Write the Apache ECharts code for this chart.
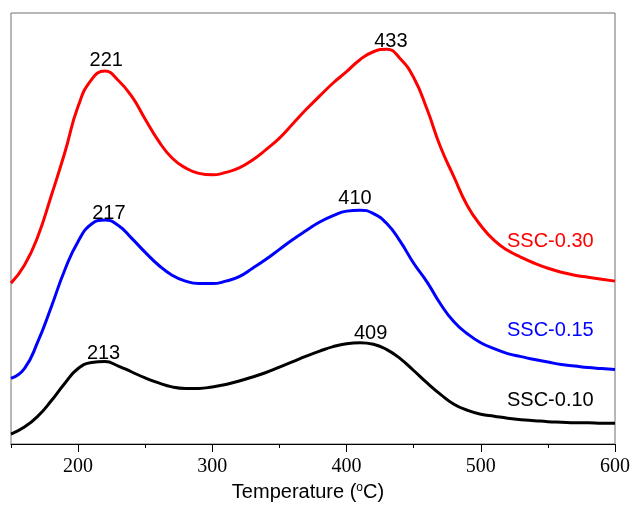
<!DOCTYPE html>
<html>
<head>
<meta charset="utf-8">
<script src="https://cdn.jsdelivr.net/npm/echarts@6/dist/echarts.min.js"></script>
<style>
  html, body { margin: 0; padding: 0; background: #fff; }
  #main { width: 633px; height: 507px; }
</style>
</head>
<body>
<div id="main"></div>
<script>
// temperature grid (°C), 150..600 in steps of 10
var temps = [150, 160, 170, 180, 190, 200, 210, 220, 230, 240, 250, 260, 270, 280, 290, 300,
             310, 320, 330, 340, 350, 360, 370, 380, 390, 400, 410, 420, 430, 440, 450,
             460, 470, 480, 490, 500, 510, 520, 530, 540, 550, 560, 570, 580, 590, 600];

// relative signal
var valsRed = [162, 180, 209, 250, 293, 340, 367, 375.5, 366, 350, 327, 305, 288, 278, 272.5, 271,
               273.5, 278, 286, 296.5, 308, 322.5, 337, 350.5, 363.5, 375, 387, 395, 397.5, 388, 369,
               337, 299, 269, 240, 220, 205, 195, 188, 182, 177, 173, 170, 168, 166, 164];
var valsBlue = [66, 76, 103, 138, 175, 204, 221.5, 225.5, 220, 207, 193, 180, 170, 164, 161.5, 161.5,
                164, 168.5, 177, 186, 196, 206, 215, 223.5, 230, 234.5, 235.5, 232, 222, 204, 182,
                163, 141, 123, 111, 102, 96, 91, 88, 85, 82.5, 80, 78.5, 77, 76, 75];
var valsBlack = [10, 17, 28, 43.5, 61, 76, 82, 83, 78.5, 72.5, 66.5, 61.5, 57.5, 56, 56, 57.5,
                 60, 63.5, 67.5, 72, 77.5, 83, 88.5, 93.5, 98, 101, 102, 100.5, 95, 86, 74,
                 61.5, 50, 40, 34, 30, 28, 26, 24.5, 23.5, 22.5, 22, 21.5, 21.5, 21, 21];

// peak positions and their heights on each curve
var peakTempsRed = [221, 433];
var peakValsRed = [375.5, 395];
var peakTempsBlue = [217, 410];
var peakValsBlue = [225, 235.5];
var peakTempsBlack = [213, 409];
var peakValsBlack = [83, 102];

var majorTicks = [200, 300, 400, 500, 600];
var minorTicks = [150, 250, 350, 450, 550];

var seriesNames = ['SSC-0.10', 'SSC-0.15', 'SSC-0.30'];

// label nudges for the peak numbers
var peakOffsets = {
  221: [0, 4], 433: [0, 5],
  217: [8, 8], 410: [-5, 3],
  213: [8, 7], 409: [12, 6]
};

function pairs (xs, ys) {
  return xs.map(function (x, i) { return [x, ys[i]]; });
}

function lineSeries (name, color, vals) {
  return {
    name: name,
    type: 'line',
    smooth: 0.5,
    showSymbol: false,
    lineStyle: { color: color, width: 3 },
    data: pairs(temps, vals),
    z: 3
  };
}

function peakSeries (ts, vs) {
  return {
    type: 'scatter',
    symbolSize: 0,
    silent: true,
    itemStyle: { opacity: 1, color: '#000' },
    z: 4,
    data: ts.map(function (t, i) {
      return {
        value: [t, vs[i]],
        label: {
          show: true,
          position: 'top',
          offset: peakOffsets[t],
          formatter: String(t),
          color: '#000',
          opacity: 1,
          fontSize: 20,
          fontFamily: 'Liberation Sans'
        }
      };
    })
  };
}

var myChart = echarts.init(document.getElementById('main'));

var option = {
  animation: false,
  grid: {
    left: 11, right: 18, top: 13, bottom: 60,
    show: true,
    borderColor: '#707070',
    borderWidth: 1
  },
  xAxis: [
    {
      type: 'value',
      min: 150,
      max: 600,
      position: 'bottom',
      name: 'Temperature ({sup|o}C)',
      nameLocation: 'middle',
      nameGap: 38,
      nameTextStyle: {
        fontSize: 20,
        fontFamily: 'Liberation Sans',
        color: '#000',
        padding: [0, 10, 0, 0],
        rich: {
          sup: { fontSize: 12, fontFamily: 'Liberation Sans', color: '#000', verticalAlign: 'top', padding: [0, 0, 8, 0] }
        }
      },
      axisLine: { show: true, lineStyle: { color: '#000', width: 1 } },
      axisTick: { show: true, inside: false, length: 8, customValues: majorTicks, lineStyle: { color: '#000' } },
      axisLabel: {
        customValues: majorTicks,
        margin: 13,
        fontSize: 20,
        fontFamily: 'Liberation Serif',
        color: '#000'
      },
      splitLine: { show: false }
    },
    {
      type: 'value',
      min: 150,
      max: 600,
      position: 'bottom',
      axisLine: { show: false },
      axisTick: { show: true, inside: false, length: 4, customValues: minorTicks, lineStyle: { color: '#000' } },
      axisLabel: { show: false },
      splitLine: { show: false }
    }
  ],
  yAxis: {
    type: 'value',
    min: 0,
    max: 434,
    axisLine: { show: false },
    axisTick: { show: false },
    axisLabel: { show: false },
    splitLine: { show: false }
  },
  graphic: [
    { type: 'text', left: 507, top: 231, style: { text: seriesNames[2], fill: '#ff0000', font: '20px "Liberation Sans"' } },
    { type: 'text', left: 507, top: 320, style: { text: seriesNames[1], fill: '#0000ff', font: '20px "Liberation Sans"' } },
    { type: 'text', left: 507, top: 390, style: { text: seriesNames[0], fill: '#000000', font: '20px "Liberation Sans"' } }
  ],
  series: [
    lineSeries(seriesNames[0], '#000000', valsBlack),
    lineSeries(seriesNames[1], '#0000ff', valsBlue),
    lineSeries(seriesNames[2], '#ff0000', valsRed),
    peakSeries(peakTempsBlack, peakValsBlack),
    peakSeries(peakTempsBlue, peakValsBlue),
    peakSeries(peakTempsRed, peakValsRed)
  ]
};

myChart.setOption(option);
</script>
</body>
</html>
